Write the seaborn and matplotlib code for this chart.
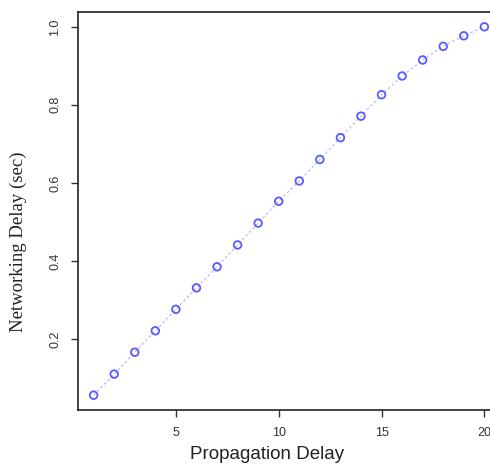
import matplotlib
matplotlib.use("Agg")
import matplotlib.pyplot as plt
import seaborn as sns
import pandas as pd

prop_delay = list(range(1, 21))
net_delay = [0.056, 0.110, 0.166, 0.221, 0.276, 0.331, 0.385, 0.441, 0.497, 0.553,
             0.605, 0.660, 0.716, 0.771, 0.826, 0.874, 0.915, 0.950, 0.977, 1.000]
x_ticks = [5, 10, 15, 20]
y_ticks = [0.2, 0.4, 0.6, 0.8, 1.0]

df = pd.DataFrame({"x": prop_delay, "y": net_delay})

sns.set_style("white")
fig = plt.figure(figsize=(4.9, 4.65), dpi=100)
ax = fig.add_axes([78/490, 1-410/465, (500-78)/490, (410-12)/465])

sns.lineplot(data=df, x="x", y="y", ax=ax, color="#b8b8ff", linestyle=(0, (2, 2)),
             linewidth=0.9)
sns.scatterplot(data=df, x="x", y="y", ax=ax, marker="o", s=30,
                facecolors="none", edgecolor="#5a5aff", linewidth=1.3, zorder=3)

ax.set_xlim(0.24, 20.76)
ax.set_ylim(0.018, 1.038)
ax.set_xticks(x_ticks)
ax.set_yticks(y_ticks)
ax.set_xticklabels([str(t) for t in x_ticks], fontsize=9, family="Liberation Sans", color="#333333")
ax.set_yticklabels(["0.2", "0.4", "0.6", "0.8", "1.0"], fontsize=9, family="Liberation Sans",
                   rotation=90, va="center", color="#333333")
ax.tick_params(axis="both", direction="out", length=5, width=1, color="#333333", pad=7,
               bottom=True, left=True)
for s in ax.spines.values():
    s.set_color("#222222")
    s.set_linewidth(1.2)
ax.set_xlabel("")
ax.set_ylabel("")

fig.text(267/490, 1-463/465, "Propagation Delay", ha="center", va="bottom",
         fontsize=13.5, family="Liberation Sans", color="#222222")
fig.text(18/490, 1-242/465, "Networking Delay (sec)", ha="center", va="center",
         rotation=90, fontsize=13.5, family="Liberation Serif", color="#222222")

fig.savefig("out.png", dpi=100)
